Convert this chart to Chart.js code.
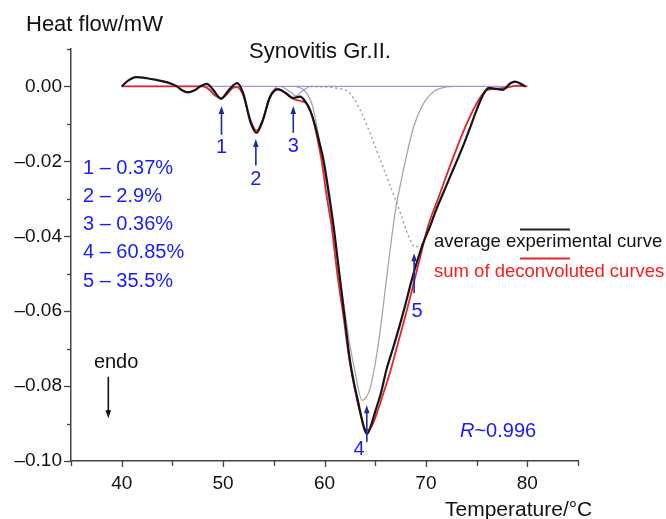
<!DOCTYPE html>
<html>
<head>
<meta charset="utf-8">
<script src="https://cdn.jsdelivr.net/npm/chart.js@4"></script>
<style>
  body { margin: 0; background: #fff; }
  canvas { display: block; }
</style>
</head>
<body>
<canvas id="dscChart" width="666" height="519"></canvas>
<script>
// average experimental curve (black)
const expTemps = [40, 40.6, 41.4, 42.5, 43.5, 44.5, 45.4, 46.0, 46.5, 47.2, 47.8, 48.4, 49.0, 49.8, 50.6, 51.4, 52.0, 52.7, 53.3, 53.9, 54.6, 55.4, 56.2, 56.9, 57.6, 58.1, 58.6, 59.1, 59.5, 59.9, 60.4, 60.9, 61.5, 62.0, 62.5, 62.9, 63.3, 63.7, 64.0, 64.2, 64.5, 65.0, 65.6, 66.1, 66.8, 67.5, 68.0, 68.6, 69.1, 69.7, 70.4, 71.0, 71.7, 72.4, 73.1, 73.8, 74.4, 74.9, 75.4, 75.8, 76.2, 76.8, 77.6, 78.3, 78.8, 79.3, 79.8];
const expHeat = [0, 0.0015, 0.0025, 0.0022, 0.0017, 0.0011, 0.0001, -0.0011, -0.0016, -0.0010, 0.0001, 0.0007, -0.0008, -0.0033, -0.0008, 0.0009, -0.0020, -0.0095, -0.0124, -0.0092, -0.0030, -0.0008, -0.0018, -0.0031, -0.0027, -0.0040, -0.0065, -0.0107, -0.0150, -0.0196, -0.0280, -0.0374, -0.0508, -0.0620, -0.0730, -0.0790, -0.0840, -0.0890, -0.0920, -0.0927, -0.0912, -0.0868, -0.0815, -0.0757, -0.0695, -0.0630, -0.0580, -0.0517, -0.0470, -0.0420, -0.0374, -0.0330, -0.0285, -0.0240, -0.0196, -0.0150, -0.0107, -0.0070, -0.0036, -0.0015, -0.0004, -0.0006, -0.0009, 0.0008, 0.0013, 0.0008, 0.0000];

// sum of deconvoluted curves (red)
const sumTemps = [40, 48.0, 48.6, 49.2, 49.8, 50.4, 51.0, 51.4, 52.0, 52.7, 53.3, 53.9, 54.6, 55.3, 56.0, 56.6, 57.2, 57.8, 58.3, 58.8, 59.3, 59.7, 60.2, 60.7, 61.3, 61.9, 62.4, 63.0, 63.5, 64.0, 64.3, 64.7, 65.2, 65.8, 66.5, 67.2, 68.0, 68.8, 69.4, 70.2, 71.4, 72.6, 73.9, 75.2, 76.0, 77.0, 78.0, 79.0, 80.0];
const sumHeat = [0, 0, -0.0008, -0.0024, -0.0031, -0.0020, -0.0003, -0.0002, -0.0025, -0.0090, -0.0118, -0.0090, -0.0030, -0.0006, -0.0014, -0.0028, -0.0036, -0.0040, -0.0048, -0.0080, -0.0140, -0.0196, -0.0290, -0.0374, -0.0508, -0.0620, -0.0720, -0.0810, -0.0870, -0.0915, -0.0918, -0.0905, -0.0870, -0.0820, -0.0760, -0.0690, -0.0610, -0.0525, -0.0460, -0.0374, -0.0285, -0.0196, -0.0107, -0.0036, -0.0010, -0.0006, -0.0003, 0.0002, 0];

// deconvoluted peak 4 (grey solid) and peak 5 (grey dotted)
const p4Temps = [57.2, 58.0, 58.8, 59.4, 59.9, 60.4, 60.9, 61.5, 62.0, 62.5, 63.0, 63.7, 64.1, 64.5, 65.0, 65.5, 66.1, 66.5, 67.0, 67.5, 68.0, 68.8, 69.8, 70.8, 71.7, 72.7];
const p4Heat = [0, -0.0010, -0.0050, -0.0130, -0.0210, -0.0300, -0.0390, -0.0510, -0.0600, -0.0690, -0.0760, -0.0838, -0.0830, -0.0806, -0.0740, -0.0650, -0.0517, -0.0430, -0.0330, -0.0260, -0.0196, -0.0107, -0.0044, -0.0013, -0.0003, 0];
const p5Temps = [58.6, 61.0, 62.5, 63.5, 64.5, 65.5, 66.5, 67.5, 68.3, 68.9, 69.4, 69.8, 70.3, 71.4, 72.6, 73.9, 75.2, 76.2];
const p5Heat = [0, -0.0004, -0.0018, -0.0062, -0.0125, -0.0196, -0.0267, -0.0339, -0.0401, -0.0428, -0.0425, -0.0414, -0.0383, -0.0285, -0.0196, -0.0107, -0.0036, -0.0005];

// small peaks 1-3 and baseline (lavender)
const p1Temps = [48.3, 49.0, 49.8, 50.5, 51.2];
const p1Heat = [0, -0.0012, -0.0030, -0.0012, 0];
const p2Temps = [51.3, 52.0, 52.7, 53.3, 53.9, 54.6, 55.3];
const p2Heat = [0, -0.0022, -0.0088, -0.0118, -0.0088, -0.0025, 0];
const p3Temps = [55.8, 56.5, 57.2, 57.8, 58.5];
const p3Heat = [0, -0.0012, -0.0025, -0.0012, 0];
const baseTemps = [40, 80];
const baseHeat = [0, 0];

// axis labels
const yLabelValues = [0, -0.02, -0.04, -0.06, -0.08, -0.10];
const yLabelText = ['0.00', '\u20130.02', '\u20130.04', '\u20130.06', '\u20130.08', '\u20130.10'];
const xLabelValues = [40, 50, 60, 70, 80];
const xLabelText = ['40', '50', '60', '70', '80'];

// peak annotations: arrow x, arrow tail y, arrow tip y, label x, label y
const peakNames = ['1', '2', '3', '4', '5'];
const peakShares = ['0.37%', '2.9%', '0.36%', '60.85%', '35.5%'];
const arrowX = [49.84, 53.23, 56.92, 64.17, 68.84];
const arrowTail = [-0.0129, -0.0211, -0.0124, -0.0949, -0.0552];
const arrowTip = [-0.0052, -0.0140, -0.0052, -0.0851, -0.0445];
const peakLabelX = [49.84, 53.23, 56.92, 63.4, 69.14];
const peakLabelY = [-0.0164, -0.0249, -0.0159, -0.0969, -0.0600];

const FONT = '"Liberation Sans", Arial, Helvetica, sans-serif';
const BLUE_TEXT = '#1a1aff';
const BLUE_ARROW = '#1f2a9c';

const pts = (xs, ys) => xs.map((x, i) => ({ x: x, y: ys[i] }));

function arrow(ctx, x, y0, y1, color) {
  // line from y0 to y1, head at y1
  const dir = y1 < y0 ? -1 : 1;
  ctx.strokeStyle = color;
  ctx.fillStyle = color;
  ctx.lineWidth = 1.6;
  ctx.beginPath();
  ctx.moveTo(x, y0);
  ctx.lineTo(x, y1 - dir * 6);
  ctx.stroke();
  ctx.beginPath();
  ctx.moveTo(x, y1);
  ctx.lineTo(x - 2.8, y1 - dir * 8);
  ctx.lineTo(x + 2.8, y1 - dir * 8);
  ctx.closePath();
  ctx.fill();
}

const extras = {
  id: 'extras',
  afterDraw(chart) {
    const ctx = chart.ctx;
    const xs = chart.scales.x, ys = chart.scales.y;
    const area = chart.chartArea;
    ctx.save();

    // tick marks
    ctx.strokeStyle = '#444';
    ctx.lineWidth = 1.3;
    ys.ticks.forEach(t => {
      const k = Math.round(t.value * 100);
      const len = k % 2 === 0 ? 7 : 4;
      const py = Math.round(ys.getPixelForValue(t.value)) + 0.5;
      ctx.beginPath();
      ctx.moveTo(area.left - len, py);
      ctx.lineTo(area.left, py);
      ctx.stroke();
    });
    xs.ticks.forEach(t => {
      const len = t.value % 10 === 0 ? 6 : 5;
      const px = Math.round(xs.getPixelForValue(t.value)) + 0.5;
      ctx.beginPath();
      ctx.moveTo(px, area.bottom);
      ctx.lineTo(px, area.bottom + len);
      ctx.stroke();
    });

    // axis titles and chart title
    ctx.fillStyle = '#111';
    ctx.textBaseline = 'middle';
    ctx.textAlign = 'left';
    ctx.font = '22px ' + FONT;
    ctx.fillText('Heat flow/mW', 26, 25);
    ctx.textAlign = 'center';
    ctx.fillText('Synovitis Gr.II.', 320, 52);
    ctx.font = '21px ' + FONT;
    ctx.textAlign = 'left';
    ctx.fillText('Temperature/\u00b0C', 445, 510);

    // endo marker
    ctx.font = '20px ' + FONT;
    ctx.textAlign = 'center';
    ctx.fillText('endo', xs.getPixelForValue(39.45), ys.getPixelForValue(-0.0736));
    arrow(ctx, xs.getPixelForValue(38.68), ys.getPixelForValue(-0.0775), ys.getPixelForValue(-0.0886), '#111');

    // peak arrows and numbers
    arrowX.forEach((x, i) => {
      const px = xs.getPixelForValue(x);
      arrow(ctx, px, ys.getPixelForValue(arrowTail[i]), ys.getPixelForValue(arrowTip[i]), BLUE_ARROW);
      ctx.fillStyle = BLUE_TEXT;
      ctx.font = '20px ' + FONT;
      ctx.textAlign = 'center';
      ctx.fillText(peakNames[i], xs.getPixelForValue(peakLabelX[i]), ys.getPixelForValue(peakLabelY[i]));
    });

    // share list
    ctx.fillStyle = BLUE_TEXT;
    ctx.textAlign = 'left';
    ctx.font = '20px ' + FONT;
    peakNames.forEach((n, i) => {
      ctx.fillText(n + ' \u2013 ' + peakShares[i], 83, 168 + i * 28.3);
    });

    // correlation
    ctx.font = 'italic 20px ' + FONT;
    ctx.fillText('R', 460, 431);
    const rw = ctx.measureText('R').width;
    ctx.font = '20px ' + FONT;
    ctx.fillText('~0.996', 460 + rw, 431);

    // legend
    ctx.lineWidth = 2;
    ctx.strokeStyle = '#222';
    ctx.beginPath(); ctx.moveTo(520, 229.5); ctx.lineTo(570, 229.5); ctx.stroke();
    ctx.strokeStyle = '#e3262d';
    ctx.beginPath(); ctx.moveTo(520, 258.5); ctx.lineTo(570, 258.5); ctx.stroke();
    ctx.font = '18.5px ' + FONT;
    ctx.fillStyle = '#111';
    ctx.fillText('average experimental curve', 434, 242);
    ctx.fillStyle = '#ff1a1a';
    ctx.fillText('sum of deconvoluted curves', 434, 272);

    ctx.restore();
  }
};

const lav = 'rgba(120, 120, 215, 0.75)';
const lineSet = (data, color, width, extra) => Object.assign({
  data: data,
  borderColor: color,
  borderWidth: width,
  showLine: true,
  pointRadius: 0,
  cubicInterpolationMode: 'monotone',
  fill: false,
}, extra || {});

new Chart(document.getElementById('dscChart').getContext('2d'), {
  type: 'scatter',
  data: {
    datasets: [
      lineSet(pts(expTemps, expHeat), '#151515', 2.2),
      lineSet(pts(sumTemps, sumHeat), '#e3262d', 1.8),
      lineSet(pts(p4Temps, p4Heat), 'rgba(150, 150, 165, 0.85)', 1.3),
      lineSet(pts(p5Temps, p5Heat), 'rgba(140, 140, 150, 0.9)', 1.4, { borderDash: [2, 3] }),
      lineSet(pts(p1Temps, p1Heat), lav, 1.2),
      lineSet(pts(p2Temps, p2Heat), lav, 1.2),
      lineSet(pts(p3Temps, p3Heat), lav, 1.2),
      lineSet(pts(baseTemps, baseHeat), lav, 1.2),
    ],
  },
  options: {
    responsive: false,
    animation: false,
    layout: { padding: { top: 49, right: 88, left: 0, bottom: 0 } },
    plugins: {
      legend: { display: false },
      title: { display: false },
      tooltip: { enabled: false },
    },
    scales: {
      x: {
        type: 'linear',
        min: 35,
        max: 85,
        afterFit: (scale) => { scale.height = 58; },
        grid: { display: false, drawTicks: false },
        border: { display: true, color: '#444', width: 1.5 },
        ticks: {
          stepSize: 5,
          autoSkip: false,
          maxRotation: 0,
          padding: 11,
          color: '#111',
          font: { family: FONT, size: 19 },
          callback: (v) => {
            const i = xLabelValues.indexOf(v);
            return i >= 0 ? xLabelText[i] : '';
          },
        },
      },
      y: {
        min: -0.1,
        max: 0.01,
        afterFit: (scale) => { scale.width = 71; },
        grid: { display: false, drawTicks: false },
        border: { display: true, color: '#444', width: 1.5 },
        ticks: {
          stepSize: 0.01,
          autoSkip: false,
          padding: 9,
          color: '#111',
          font: { family: FONT, size: 19 },
          callback: (v) => {
            const i = yLabelValues.findIndex(t => Math.abs(t - v) < 1e-6);
            return i >= 0 ? yLabelText[i] : '';
          },
        },
      },
    },
  },
  plugins: [extras],
});
</script>
</body>
</html>
